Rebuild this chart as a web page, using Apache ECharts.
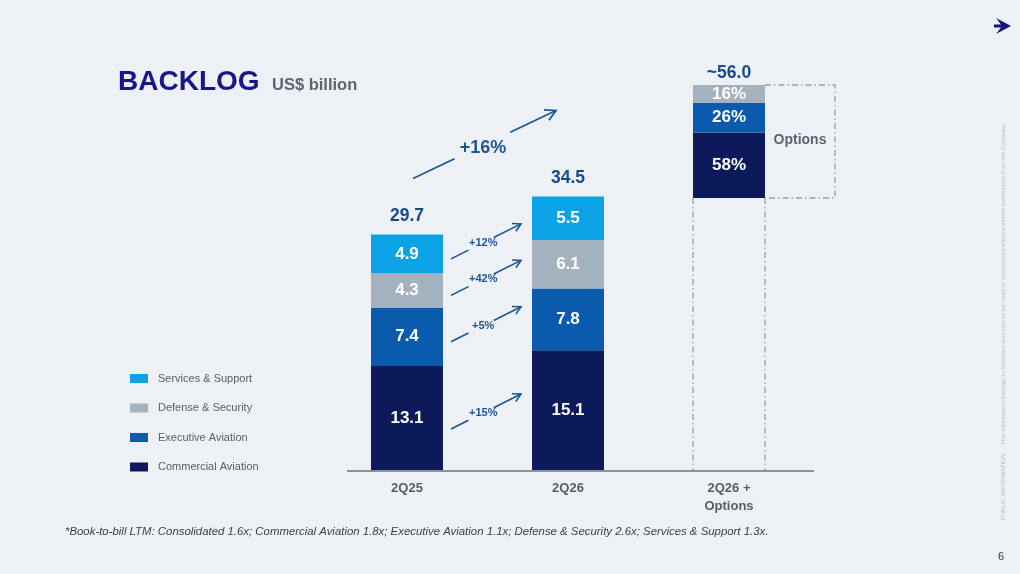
<!DOCTYPE html>
<html><head><meta charset="utf-8">
<script src="https://cdn.jsdelivr.net/npm/echarts@6/dist/echarts.min.js"></script>
<style>html,body{margin:0;padding:0;background:#edf1f6;} #c{width:1020px;height:574px;}</style>
</head><body><div id="c"></div>
<script>
// ---- data ----
const categories = ['2Q25', '2Q26', '2Q26 +\nOptions'];
const commercial = [13.1, 15.1, null];
const executive = [7.4, 7.8, null];
const defense = [4.3, 6.1, null];
const services = [4.9, 5.5, null];
const totals = [29.7, 34.5];
const optionsTotalLabel = '~56.0';
const optionsShare = [58, 26, 16]; // Commercial, Executive, Defense (% of options bar)
const segmentGrowth = ['+15%', '+5%', '+42%', '+12%']; // Commercial, Executive, Defense, Services
const totalGrowth = '+16%';
const legendNames = ['Services & Support', 'Defense & Security', 'Executive Aviation', 'Commercial Aviation'];

// ---- styles ----
const F = '"Liberation Sans", Arial, sans-serif';
const COL = { ca: '#0c1a5c', ea: '#0a5aae', ds: '#a4b2c0', ss: '#0ba3e6' };
const AC = '#1c5596';
const TOT = '#174a8c';
const BW = 72;

const chart = echarts.init(document.getElementById('c'));

const segLabel = { show: true, position: 'inside', color: '#fff', fontSize: 17, fontWeight: 'bold', fontFamily: F };
function stackBar(name, data, color) {
  return { type: 'bar', name, stack: 'a', data, barWidth: BW, barGap: '-100%', itemStyle: { color }, label: segLabel, silent: true };
}
function optBar(name, idx, color) {
  const d = [null, null, optionsShare[idx]];
  return { type: 'bar', name, stack: 'b', yAxisIndex: 1, data: d, barWidth: BW, barGap: '-100%', itemStyle: { color },
    label: Object.assign({}, segLabel, { formatter: p => p.value + '%' }), silent: true };
}

const option = {
  animation: false,
  backgroundColor: '#edf1f6',
  grid: { left: 326.5, width: 483, top: 60, bottom: 104 },
  xAxis: {
    type: 'category', data: categories,
    axisLine: { show: false }, axisTick: { show: false },
    axisLabel: { color: '#555d66', fontSize: 13, fontWeight: 'bold', fontFamily: F, lineHeight: 18, margin: 9 }
  },
  yAxis: [
    { type: 'value', min: 0, max: 51.7, show: false, splitLine: { show: false } },
    { type: 'value', min: -240.7, max: 122.1, show: false, splitLine: { show: false } }
  ],
  legend: {
    data: legendNames, orient: 'vertical', left: 130, top: 373, icon: 'rect', padding: 0,
    itemWidth: 18, itemHeight: 9, itemGap: 18.5, selectedMode: false,
    textStyle: { color: '#5a6068', fontSize: 11, fontFamily: F, padding: [0, 0, 0, 5] }
  },
  series: [
    stackBar('Commercial Aviation', commercial, COL.ca),
    stackBar('Executive Aviation', executive, COL.ea),
    stackBar('Defense & Security', defense, COL.ds),
    stackBar('Services & Support', services, COL.ss),
    optBar('Options Commercial', 0, COL.ca),
    optBar('Options Executive', 1, COL.ea),
    optBar('Options Defense', 2, COL.ds),
    { type: 'scatter', name: 'Total', symbolSize: 0, data: totals.map((v, i) => [i, v]), silent: true, itemStyle: { opacity: 1 },
      label: { show: true, position: 'top', distance: 9, color: TOT, fontSize: 17.5, fontWeight: 'bold', fontFamily: F, formatter: p => p.value[1].toFixed(1) } },
    { type: 'scatter', name: 'Options Total', yAxisIndex: 1, symbolSize: 0, data: [[2, 100]], silent: true, itemStyle: { opacity: 1 },
      label: { show: true, position: 'top', distance: 3, color: TOT, fontSize: 17.5, fontWeight: 'bold', fontFamily: F, formatter: () => optionsTotalLabel } }
  ]
};
chart.setOption(option);

// ---- decorations computed from scales ----
const X = i => chart.convertToPixel({ xAxisIndex: 0 }, i);
const Y0 = v => chart.convertToPixel({ yAxisIndex: 0 }, v);
const Y1 = v => chart.convertToPixel({ yAxisIndex: 1 }, v);

function arrow(x1, y1, x2, y2, label, fs, t1, tl, t2, lw, head, dyl) {
  const P = t => [x1 + (x2 - x1) * t, y1 + (y2 - y1) * t];
  const a = P(t1), b = P(t2), l = P(tl);
  const ang = Math.atan2(y2 - y1, x2 - x1), sp = 0.5;
  const h1 = [x2 - head * Math.cos(ang - sp), y2 - head * Math.sin(ang - sp)];
  const h2 = [x2 - head * Math.cos(ang + sp), y2 - head * Math.sin(ang + sp)];
  return [
    { type: 'line', shape: { x1, y1, x2: a[0], y2: a[1] }, style: { stroke: AC, lineWidth: lw }, silent: true },
    { type: 'line', shape: { x1: b[0], y1: b[1], x2, y2 }, style: { stroke: AC, lineWidth: lw }, silent: true },
    { type: 'polyline', shape: { points: [h1, [x2, y2], h2] }, style: { stroke: AC, lineWidth: lw, fill: 'none' }, silent: true },
    { type: 'text', x: l[0], y: l[1] + dyl, silent: true,
      style: { text: label, fill: AC, font: 'bold ' + fs + 'px ' + F, align: 'center', verticalAlign: 'middle', textAlign: 'center', textVerticalAlign: 'middle' } }
  ];
}

const g = [];
const x0 = X(0), x1 = X(1), x2 = X(2);
// segment growth arrows
const seg25 = [commercial, executive, defense, services];
let acc = 0;
seg25.forEach((arr, k) => {
  const lo = acc, hi = acc + arr[0]; acc = hi;
  const mid = (Y0(lo) + Y0(hi)) / 2;
  const ys = mid + (k === 0 ? 11 : 5);
  g.push(...arrow(x0 + 44, ys, x1 - 47, ys - 35, segmentGrowth[k], 11, 0.25, 0.46, 0.61, 1.6, 9, 0));
});
// total growth arrow
const bs = [x0 + 6, Y0(totals[0]) - 56];
g.push(...arrow(bs[0], bs[1], bs[0] + 143, bs[1] - 68, totalGrowth, 18, 0.29, 0.49, 0.68, 1.8, 12, 3));

// dashed options box
const dash = { stroke: '#9aa0a8', lineWidth: 1.3, lineDash: [6, 3, 1.5, 3], fill: 'none' };
const bl = x2 - BW / 2, br = x2 + BW / 2, yb = Y1(0), yt = Y1(100), base = Y0(0);
g.push({ type: 'polyline', shape: { points: [[br, yt], [br + 70, yt], [br + 70, yb], [br, yb]] }, style: dash, silent: true });
g.push({ type: 'line', shape: { x1: bl, y1: yb, x2: bl, y2: base }, style: dash, silent: true });
g.push({ type: 'line', shape: { x1: br, y1: yb, x2: br, y2: base }, style: dash, silent: true });
g.push({ type: 'text', x: br + 35, y: yt + 55, silent: true,
  style: { text: 'Options', fill: '#5a6470', font: 'bold 14px ' + F, align: 'center', verticalAlign: 'middle', textAlign: 'center', textVerticalAlign: 'middle' } });
// axis baseline
g.push({ type: 'line', shape: { x1: x0 - 60, y1: base + 1, x2: x2 + 85, y2: base + 1 }, style: { stroke: '#6b7078', lineWidth: 1.5 }, silent: true });

// titles and page furniture
g.push({ type: 'text', left: 118, top: 68, silent: true, style: { text: 'BACKLOG', fill: '#17178a', font: 'bold 28px ' + F } });
g.push({ type: 'text', left: 272, top: 77, silent: true, style: { text: 'US$ billion', fill: '#5d646d', font: 'bold 16.5px ' + F } });
g.push({ type: 'text', left: 65, top: 526, silent: true,
  style: { text: '*Book-to-bill LTM: Consolidated 1.6x; Commercial Aviation 1.8x; Executive Aviation 1.1x; Defense & Security 2.6x; Services & Support 1.3x.', fill: '#3a3f46', font: 'italic 11.4px ' + F } });
g.push({ type: 'text', x: 1001, y: 557, silent: true, style: { text: '6', fill: '#333a44', font: '11px ' + F, align: 'center', verticalAlign: 'middle', textAlign: 'center', textVerticalAlign: 'middle' } });
g.push({ type: 'text', x: 1003, y: 322, rotation: Math.PI / 2, silent: true,
  style: { text: 'PUBLIC INFORMATION     This information belongs to Embraer and cannot be used or reproduced without written permission from the Company', fill: '#b5bcc6', font: '6.2px ' + F, align: 'center', verticalAlign: 'middle', textAlign: 'center', textVerticalAlign: 'middle' } });
g.push({ type: 'polygon', silent: true, shape: { points: [[996, 18], [1011, 26], [996, 34], [1001, 27.6], [994, 27.6], [994, 24.4], [1001, 24.4]] }, style: { fill: '#15157f' } });

chart.setOption({ graphic: { elements: g } });
</script>
</body></html>
